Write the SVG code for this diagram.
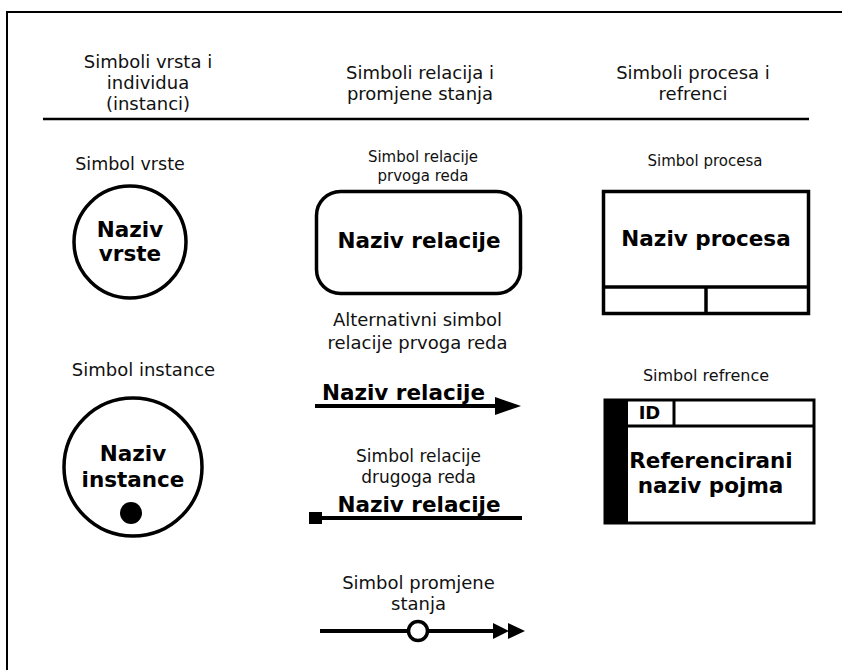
<svg xmlns="http://www.w3.org/2000/svg" width="842" height="670" viewBox="0 0 842 670">
<style>
  text { font-family: "DejaVu Sans", Verdana, sans-serif; fill: #111; text-anchor: middle; }
  .hdr { font-size: 18px; }
  .lbl { font-size: 17.5px; }
  .sm { font-size: 15px; }
  .b { font-weight: bold; font-size: 21.5px; fill: #000; }
  .shape { fill: #fff; stroke: #000; stroke-width: 3.5; }
  .ln { stroke: #000; stroke-width: 4; fill: none; }
  .thin { stroke: #000; stroke-width: 3; fill: none; }
</style>
<rect width="842" height="670" fill="#fff"/>
<path d="M7,672 V12 H844" fill="none" stroke="#000" stroke-width="2"/>
<g id="header">
  <text class="hdr" x="148" y="68">Simboli vrsta i</text>
  <text class="hdr" x="148" y="89">individua</text>
  <text class="hdr" x="148" y="110">(instanci)</text>
  <text class="hdr" x="420" y="79">Simboli relacija i</text>
  <text class="hdr" x="420" y="100">promjene stanja</text>
  <text class="hdr" x="693" y="79">Simboli procesa i</text>
  <text class="hdr" x="693" y="100">refrenci</text>
  <line x1="43" y1="119" x2="809" y2="119" stroke="#000" stroke-width="2.5"/>
</g>
<g id="simbol-vrste">
  <text class="lbl" x="130" y="170">Simbol vrste</text>
  <circle class="shape" cx="130" cy="242" r="56"/>
  <text class="b" x="130" y="237">Naziv</text>
  <text class="b" x="130" y="261">vrste</text>
</g>
<g id="simbol-instance">
  <text class="hdr" x="143.5" y="376">Simbol instance</text>
  <circle class="shape" cx="133" cy="467" r="69"/>
  <text class="b" x="133" y="461">Naziv</text>
  <text class="b" x="133" y="487">instance</text>
  <circle cx="131" cy="513" r="11" fill="#000"/>
</g>
<g id="simbol-relacije">
  <text class="sm" x="423" y="162">Simbol relacije</text>
  <text class="sm" x="423" y="181">prvoga reda</text>
  <rect class="shape" x="316.5" y="191.5" width="204" height="102" rx="24"/>
  <text class="b" x="419" y="248">Naziv relacije</text>
</g>
<g id="simbol-procesa">
  <text class="sm" x="705" y="166">Simbol procesa</text>
  <rect class="shape" x="603.5" y="191.5" width="205" height="122"/>
  <line class="shape" x1="603.5" y1="287" x2="808.5" y2="287"/>
  <line class="shape" x1="706" y1="287" x2="706" y2="313.5"/>
  <text class="b" x="706" y="246">Naziv procesa</text>
</g>
<g id="simbol-refrence">
  <text style="font-size:16px" x="706" y="381">Simbol refrence</text>
  <rect class="thin" x="605" y="400" width="209" height="123" fill="#fff"/>
  <rect x="604" y="399" width="24" height="125" fill="#000"/>
  <line class="thin" x1="628" y1="426" x2="814" y2="426"/>
  <line class="thin" x1="674" y1="400" x2="674" y2="426"/>
  <text class="b" style="font-size:18px" x="649.5" y="419">ID</text>
  <text class="b" x="711" y="468">Referencirani</text>
  <text class="b" x="710.5" y="493">naziv pojma</text>
</g>
<g id="connectors">
  <g id="alt-relacija">
    <text class="hdr" x="417.5" y="326">Alternativni simbol</text>
    <text class="hdr" x="417.5" y="349">relacije prvoga reda</text>
    <line class="ln" x1="315" y1="406" x2="497" y2="406"/>
    <polygon points="495,397 521,406 495,415" fill="#000"/>
    <text class="b" x="403.5" y="400">Naziv relacije</text>
  </g>
  <g id="relacija-drugog-reda">
    <text style="font-size:17px" x="418.5" y="462">Simbol relacije</text>
    <text style="font-size:17px" x="418.5" y="483">drugoga reda</text>
    <line class="ln" x1="316" y1="518" x2="522" y2="518"/>
    <rect x="309" y="512" width="13" height="12" fill="#000"/>
    <text class="b" x="419" y="512">Naziv relacije</text>
  </g>
  <g id="promjena-stanja">
    <text class="hdr" x="418.5" y="589">Simbol promjene</text>
    <text class="hdr" x="418.5" y="610">stanja</text>
    <line class="ln" x1="320" y1="631" x2="496" y2="631"/>
    <circle cx="418" cy="631" r="9.5" fill="#fff" stroke="#000" stroke-width="3.5"/>
    <polygon points="493,623 509,631 493,639" fill="#000"/>
    <polygon points="508,623 525,631 508,639" fill="#000"/>
  </g>
</g>
</svg>
